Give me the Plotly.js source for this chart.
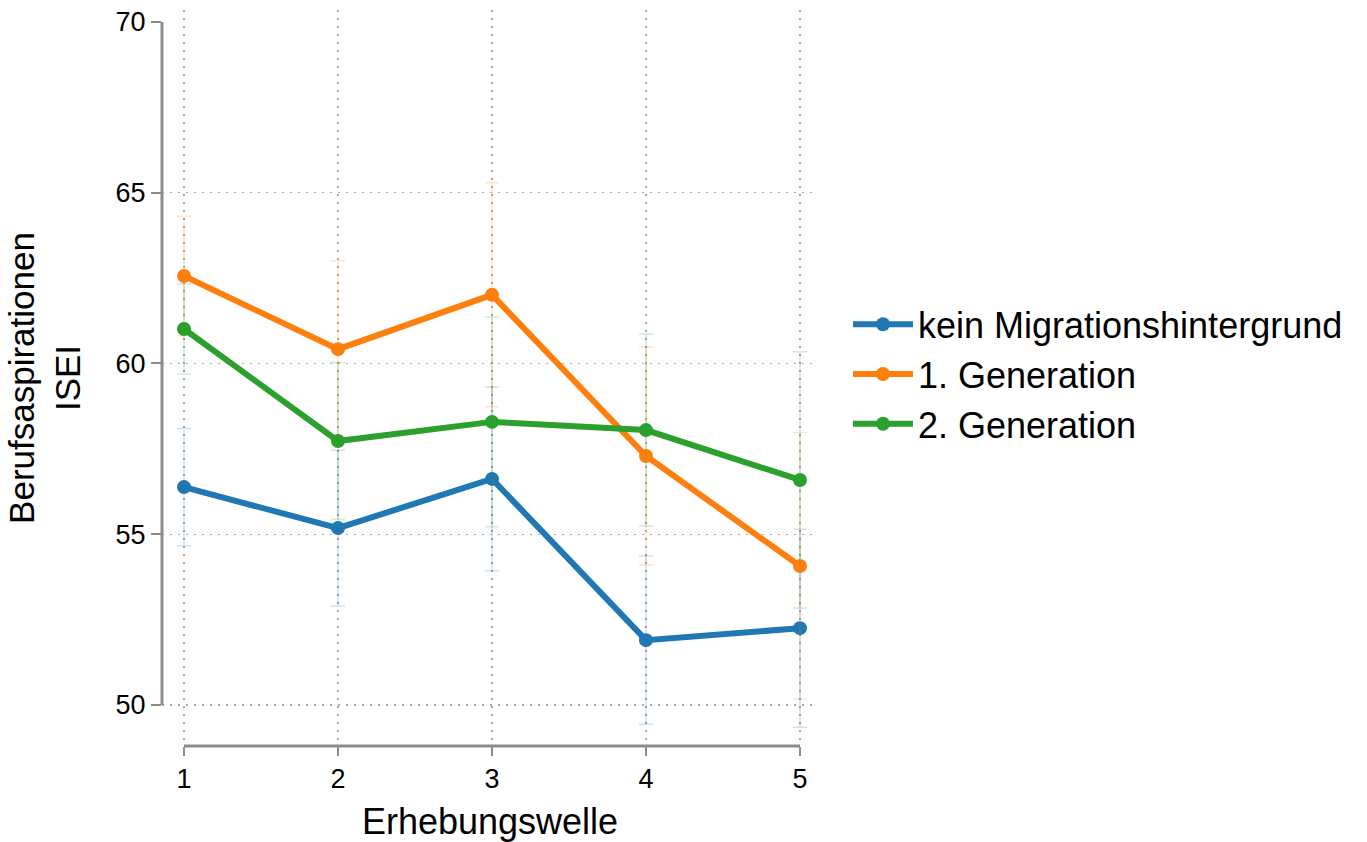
<!DOCTYPE html>
<html>
<head>
<meta charset="utf-8">
<script src="https://cdn.plot.ly/plotly-3.0.1.min.js"></script>
<style>html,body{margin:0;padding:0;background:#fff;}#chart{width:1367px;height:842px;}</style>
</head>
<body>
<div id="chart"></div>
<script>
const waves = [1, 2, 3, 4, 5];
const seriesNames = ["kein Migrationshintergrund", "1. Generation", "2. Generation"];
const keinMigration = [56.38, 55.18, 56.62, 51.90, 52.25];
const keinMigrationErr = [1.72, 2.28, 2.69, 2.46, 2.90];
const ersteGeneration = [62.56, 60.42, 62.01, 57.29, 54.07];
const ersteGenerationErr = [1.75, 2.59, 3.28, 3.19, 3.90];
const zweiteGeneration = [61.01, 57.73, 58.29, 58.05, 56.59];
const zweiteGenerationErr = [1.32, 2.30, 3.07, 2.81, 3.75];
const yTicks = [50, 55, 60, 65, 70];
const xTicks = [1, 2, 3, 4, 5];

const colors = ["#1f77b4", "#ff7f0e", "#2ca02c"];
const errColors = ["rgba(31,119,180,0.22)", "rgba(255,127,14,0.22)", "rgba(44,160,44,0.22)"];
const values = [keinMigration, ersteGeneration, zweiteGeneration];
const errs = [keinMigrationErr, ersteGenerationErr, zweiteGenerationErr];
const font = "Liberation Sans, Arial, sans-serif";

const traces = values.map((v, i) => ({
  type: "scatter",
  mode: "lines+markers",
  x: waves,
  y: v,
  name: seriesNames[i],
  line: {color: colors[i], width: 6},
  marker: {color: colors[i], size: 14},
  error_y: {type: "data", array: errs[i], visible: true, color: errColors[i], thickness: 1.5, width: 7}
}));

const axisColor = "#8c8c8c";
const gridColor = "#a8a8a8";
const layout = {
  width: 1367, height: 842,
  margin: {l: 162, r: 549, t: 10, b: 96},
  paper_bgcolor: "#fff", plot_bgcolor: "#fff",
  font: {family: font, color: "#000"},
  showlegend: true,
  legend: {x: 1.0457, xanchor: "left", y: 0.505, yanchor: "middle", font: {size: 36, family: font}, itemwidth: 60, borderwidth: 0, bgcolor: "rgba(0,0,0,0)"},
  xaxis: {
    range: [0.857, 5.117],
    tickvals: xTicks, ticktext: xTicks.map(String),
    ticks: "outside", ticklen: 9, tickwidth: 2, tickcolor: axisColor,
    showline: false, zeroline: false,
    showgrid: true, gridcolor: gridColor, griddash: "2px,6px", gridwidth: 1.5,
    tickfont: {size: 27, family: font, color: "#000"},
    title: {text: "Erhebungswelle", font: {size: 36, family: font, color: "#000"}, standoff: 16}
  },
  yaxis: {
    range: [48.8, 70.35],
    tickvals: yTicks, ticktext: yTicks.map(String),
    ticks: "outside", ticklen: 10, tickwidth: 2, tickcolor: axisColor,
    showline: false, zeroline: false,
    showgrid: false,
    minor: {tickvals: yTicks.slice(0, -1), ticks: "", showgrid: true, gridcolor: gridColor, griddash: "2px,6px", gridwidth: 1.5},
    tickfont: {size: 27, family: font, color: "#000"},
    title: {text: "Berufsaspirationen<br>ISEI", font: {size: 35, family: font, color: "#000"}, standoff: 24}
  },
  shapes: [
    {type: "line", xref: "paper", yref: "y", x0: 0, x1: 0, y0: yTicks[0], y1: yTicks[yTicks.length - 1], line: {color: axisColor, width: 3}},
    {type: "line", xref: "x", yref: "paper", x0: xTicks[0], x1: xTicks[xTicks.length - 1], y0: 0, y1: 0, line: {color: axisColor, width: 3}}
  ]
};

Plotly.newPlot("chart", traces, layout, {displayModeBar: false, staticPlot: true});
</script>
</body>
</html>
